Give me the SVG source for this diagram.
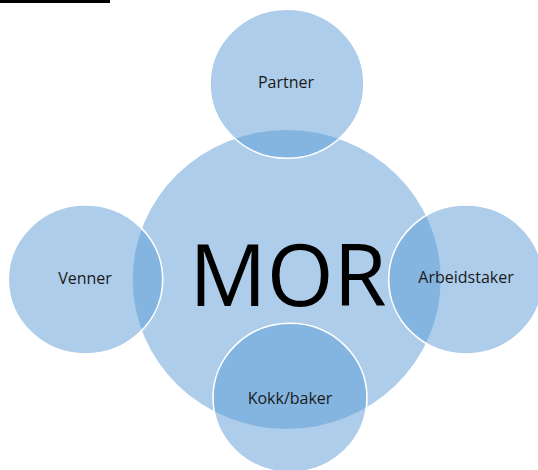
<svg xmlns="http://www.w3.org/2000/svg" width="538" height="470" viewBox="0 0 538 470">
  <style>
    .bg { fill: #ffffff; }
    .core { fill: #5b9bd5; fill-opacity: 0.5; stroke: none; }
    .sat { fill: #5b9bd5; fill-opacity: 0.5; stroke: #ffffff; stroke-width: 1.6; }
    .lbl { font-family: "Open Sans", "Liberation Sans", sans-serif; font-size: 16px; fill: #1a1a1a; text-anchor: middle; }
    .big { font-family: "Open Sans", "Liberation Sans", sans-serif; font-size: 86px; fill: #000000; text-anchor: middle; }
  </style>
  <rect class="bg" x="0" y="0" width="538" height="470"/>
  <rect x="0" y="0" width="110" height="3" fill="#000000"/>
  <g id="connectors"></g>
  <g id="node-mor">
    <ellipse class="core" cx="286.7" cy="279.5" rx="154" ry="149.5"/>
  </g>
  <g id="node-partner">
    <ellipse class="sat" cx="287" cy="83.8" rx="77" ry="74.5"/>
  </g>
  <g id="node-venner">
    <ellipse class="sat" cx="85.5" cy="279.5" rx="77.2" ry="74.5"/>
  </g>
  <g id="node-arbeidstaker">
    <ellipse class="sat" cx="465.9" cy="279.5" rx="77.2" ry="74.5"/>
  </g>
  <g id="node-kokk">
    <ellipse class="sat" cx="290" cy="397.8" rx="77" ry="74.5"/>
  </g>
  <g id="labels">
    <text class="big" x="288" y="306">MOR</text>
    <text class="lbl" x="286" y="87.7">Partner</text>
    <text class="lbl" x="85" y="284">Venner</text>
    <text class="lbl" x="466" y="283.3">Arbeidstaker</text>
    <text class="lbl" x="290" y="404">Kokk/baker</text>
  </g>
</svg>
